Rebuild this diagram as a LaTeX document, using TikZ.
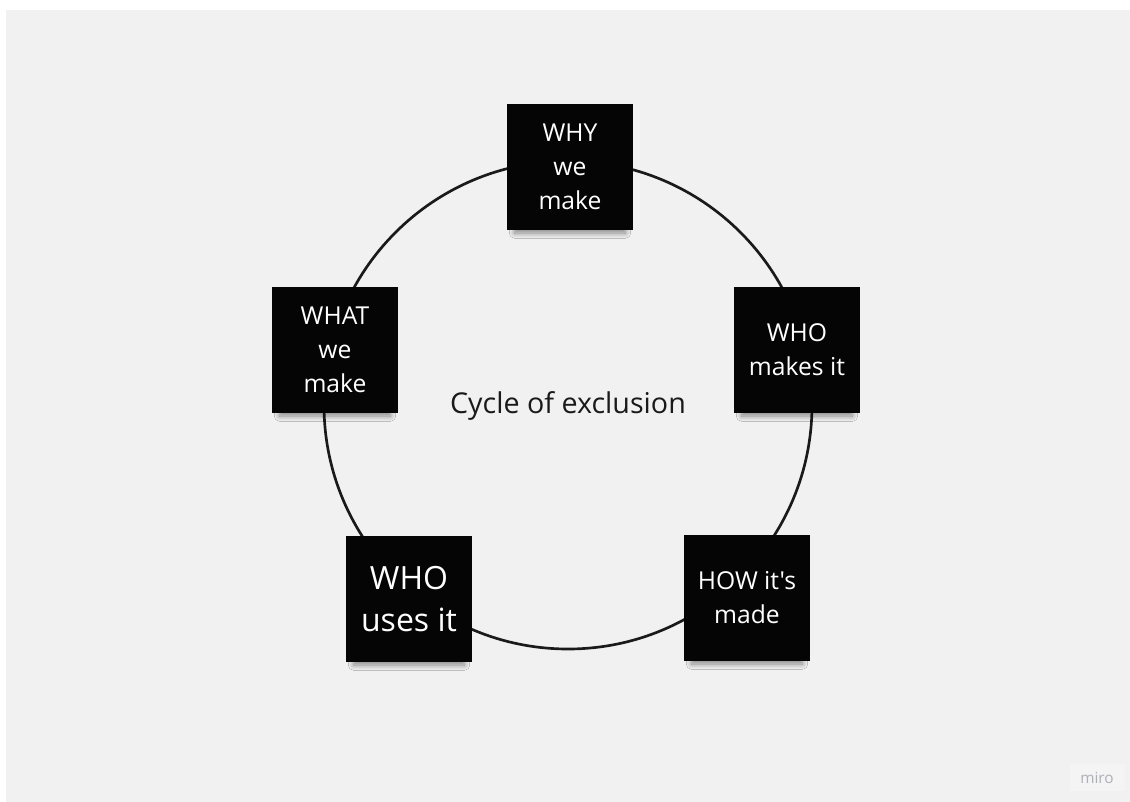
\documentclass[tikz,border=0pt]{standalone}
\usepackage{fontspec}
\newfontfamily\osans{Open Sans}
\usetikzlibrary{shadows.blur}
\definecolor{bg}{HTML}{F1F1F1}
\definecolor{ink}{HTML}{1A1A1A}
\definecolor{note}{HTML}{050505}
\definecolor{logo}{HTML}{AFAFBA}
\definecolor{logobg}{HTML}{F4F4F4}
\tikzset{
  sticky/.style={fill=note, minimum width=94.5pt, minimum height=94.5pt, inner sep=0pt,
    text=white, align=center, font=\osans\fontsize{18.5}{25.5}\selectfont,
    blur shadow={shadow xshift=0pt, shadow yshift=-9pt, shadow scale=0.88,
      shadow blur radius=4.5pt, shadow opacity=45, shadow blur steps=10}},
  cyclering/.style={draw=ink, line width=2pt},
}
\begin{document}
\begin{tikzpicture}[x=0.75pt,y=-0.75pt]
\useasboundingbox (0,0) rectangle (1130,802);
\fill[white] (0,0) rectangle (1130,802);
\fill[bg] (6,10) rectangle (1130,802);
\coordinate (c) at (568,405);
\draw[cyclering] (c) circle[radius=244];
\node[sticky] (why) at (570,167) {WHY\\we\\make};
\node[sticky] (whomakes) at (797,350) {WHO\\makes it};
\node[sticky] (how) at (747,598) {HOW it's\\made};
\node[sticky, font=\osans\fontsize{24}{32}\selectfont] (whouses) at (409,599) {WHO\\uses it};
\node[sticky] (what) at (335,350) {WHAT\\we\\make};
\node[text=ink, font=\osans\fontsize{21.5}{26}\selectfont] (title) at (568,406) {Cycle of exclusion};
\fill[logobg] (1070,764) rectangle (1125,791);
\node[text=logo, font=\osans\fontsize{11.5}{13}\selectfont] (miro) at (1097,778) {miro};
\end{tikzpicture}
\end{document}
